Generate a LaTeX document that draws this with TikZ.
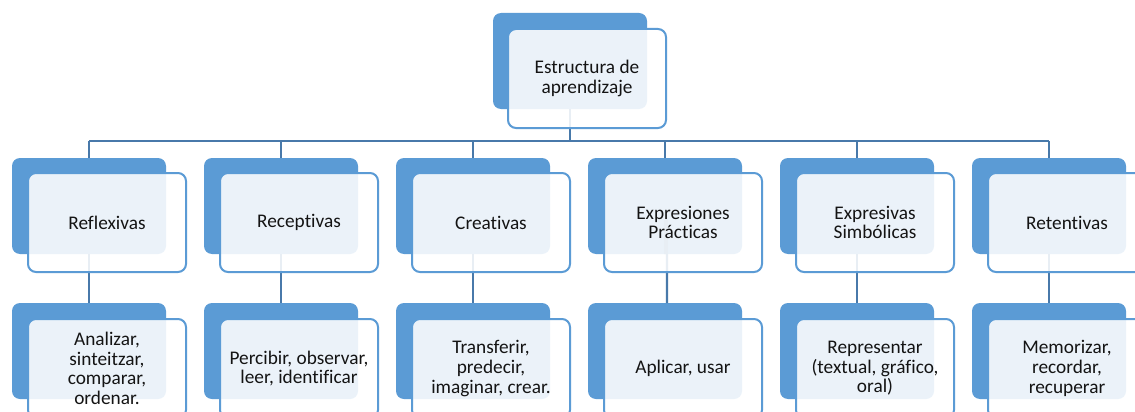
\documentclass[tikz,border=0pt]{standalone}
\usepackage{fontspec}
\setmainfont{Carlito}[RawFeature={-liga;-dlig}]
\definecolor{backblue}{RGB}{91,155,213}
\definecolor{connblue}{RGB}{72,121,170}
\definecolor{txt}{RGB}{20,20,20}
\tikzset{
  backbox/.style={fill=backblue, rounded corners=8pt, minimum width=154pt, minimum height=96pt, inner sep=0pt, outer sep=0pt, anchor=north west},
  frontbox/.style={draw=backblue, line width=2pt, fill=white, fill opacity=0.88, text opacity=1, rounded corners=8pt, minimum width=158pt, minimum height=99pt, inner sep=0pt, outer sep=0pt, anchor=north west, text=txt, font=\fontsize{19.3}{19.6}\selectfont, align=center},
  conn/.style={draw=connblue, line width=2.2pt}
}
\begin{document}
\begin{tikzpicture}[x=1pt,y=-1pt]
\useasboundingbox (0,0) rectangle (1135,412);
\clip (0,0) rectangle (1135,412);
\fill[white] (0,0) rectangle (1135,412);
\coordinate (bus) at (0,141);
% back boxes
\node[backbox] (tb) at (493,13) {};
\foreach \i in {1,...,6}{
  \pgfmathsetmacro{\xx}{12+192*(\i-1)}
  \node[backbox] (b\i) at (\xx,158) {};
  \node[backbox] (c\i) at (\xx,303) {};
}
% connectors
\draw[conn] (b1.north |- bus) -- (b6.north |- bus);
\draw[conn] (tb.south) -- (tb.south |- bus);
\foreach \i in {1,2,3,5,6}{
  \draw[conn] (b\i.north |- bus) -- (b\i.north);
  \draw[conn] (b\i.south) -- (c\i.north);
}
\draw[conn] (b4.north |- bus) -- (b4.north);
\coordinate (j1) at ([yshift=33pt]b4.south);
\coordinate (j2) at ([xshift=2pt,yshift=35pt]b4.south);
\draw[conn] (b4.south) -- (j1) -- (j2) -- (j2 |- c4.north);
% front boxes
\node[frontbox] (tf) at (508,29) {Estructura de\\aprendizaje};
\foreach \i/\t in {1/Reflexivas, 2/Receptivas, 3/Creativas, 4/{Expresiones\\Prácticas}, 5/{Expresivas\\Simbólicas}, 6/Retentivas}{
  \pgfmathsetmacro{\xx}{28+192*(\i-1)}
  \node[frontbox] (f\i) at (\xx,173) {\t};
}
\foreach \i/\t in {1/{Analizar,\\sinteitzar,\\comparar,\\ordenar.}, 2/{Percibir, observar,\\leer, identificar}, 3/{Transferir,\\predecir,\\imaginar, crear.}, 4/{Aplicar, usar}, 5/{Representar\\(textual, gráfico,\\oral)}, 6/{Memorizar,\\recordar,\\recuperar}}{
  \pgfmathsetmacro{\xx}{28+192*(\i-1)}
  \node[frontbox] (g\i) at (\xx,319) {\t};
}
\end{tikzpicture}
\end{document}
